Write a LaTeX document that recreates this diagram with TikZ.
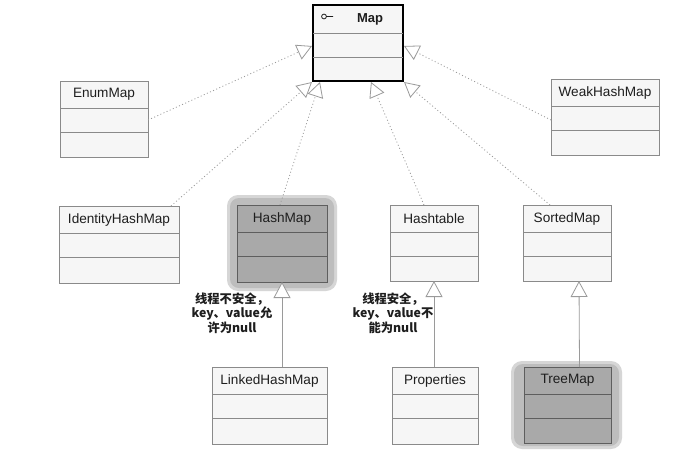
\documentclass[tikz,border=0pt]{standalone}
\usepackage{fontspec}
\setmainfont{Liberation Sans}
\newfontfamily\cjk{Noto Sans CJK SC}
\usetikzlibrary{arrows.meta,calc}
\definecolor{boxline}{HTML}{8A8A8A}
\definecolor{boxfill}{HTML}{F6F6F6}
\definecolor{hotfill}{HTML}{A9A9A9}
\definecolor{hotline}{HTML}{5E5E5E}
\definecolor{glow}{HTML}{BDBDBD}
\definecolor{glowsoft}{HTML}{D6D6D6}
\definecolor{edgec}{HTML}{9A9A9A}
\definecolor{txt}{HTML}{1E1E1E}
\tikzset{
  clsbox/.style={draw=boxline, fill=boxfill, line width=0.8pt, inner sep=0pt, outer sep=0pt},
  hotbox/.style={draw=hotline, fill=hotfill, line width=0.8pt, inner sep=0pt, outer sep=0pt},
  mapbox/.style={draw=black, fill=boxfill, line width=2.8pt, inner sep=0pt, outer sep=0pt},
  glowbox/.style={fill=glow, rounded corners=9pt, inner sep=0pt, outer sep=0pt},
  glowsoftbox/.style={fill=glowsoft, rounded corners=11pt, inner sep=0pt, outer sep=0pt},
  divline/.style={draw=boxline, line width=0.7pt},
  hotdiv/.style={draw=hotline, line width=0.7pt},
  clstitle/.style={font=\fontsize{13.6}{15}\selectfont, text=txt, inner sep=0pt},
  realize/.style={draw=edgec, dash pattern=on 1pt off 2.4pt, line width=0.8pt,
     -{Triangle[open, length=15pt, width=16pt, fill=white]}},
  inherit/.style={draw=edgec, line width=0.8pt,
     -{Triangle[open, length=16pt, width=17pt, fill=white]}},
  note/.style={font=\cjk\bfseries\fontsize{12.3}{14.6}\selectfont, text=txt, align=center, inner sep=0pt}
}
% name, box style, divider style, x1, y1, x2, y2, title
\newcommand\umlcls[8]{%
  \node[#2, anchor=north west, minimum width={#6-#4}, minimum height={#7-#5}] (#1) at (#4,#5) {};
  \draw[#3] ($(#1.north west)+(0,27)$) -- ($(#1.north east)+(0,27)$);
  \draw[#3] ($(#1.north west)+(0,51)$) -- ($(#1.north east)+(0,51)$);
  \node[clstitle] (#1-t) at ($(#1.north)+(0,13.5)$) {#8};
}
\begin{document}
\begin{tikzpicture}[x=1pt, y=-1pt]
\useasboundingbox[fill=white] (0,0) rectangle (685,461);

% glows behind highlighted classes
\node[glowsoftbox, anchor=north west, minimum width=110, minimum height=96] (hashglow2) at (227,195) {};
\node[glowbox, anchor=north west, minimum width=104, minimum height=90] (hashglow) at (230,198) {};
\node[glowsoftbox, anchor=north west, minimum width=111, minimum height=88] (treeglow2) at (511,361) {};
\node[glowbox, anchor=north west, minimum width=105, minimum height=82] (treeglow) at (514,364) {};

% Map interface
\node[mapbox, anchor=north west, minimum width=90, minimum height=76] (map) at (313,5) {};
\draw[line width=0.7pt, draw=boxline] ($(map.north west)+(0,28)$) -- ($(map.north east)+(0,28)$);
\draw[line width=0.7pt, draw=boxline] ($(map.north west)+(0,52)$) -- ($(map.north east)+(0,52)$);
\node[clstitle, font=\bfseries\fontsize{13}{15}\selectfont] (map-t) at ($(map.north)+(12,14)$) {Map};
\draw[line width=0.8pt, draw=txt] ($(map.north west)+(11,11.5)$) circle[radius=2.4]
      ($(map.north west)+(13.4,11.5)$) -- ($(map.north west)+(20,11.5)$);

\umlcls{enum}{clsbox}{divline}{60}{81}{148}{157}{EnumMap}
\umlcls{weak}{clsbox}{divline}{551}{79}{659}{155}{WeakHashMap}
\umlcls{ident}{clsbox}{divline}{59}{206}{179}{283}{IdentityHashMap}
\umlcls{hash}{hotbox}{hotdiv}{237}{205}{327}{282}{HashMap}
\umlcls{htable}{clsbox}{divline}{390}{205}{478}{281}{Hashtable}
\umlcls{sorted}{clsbox}{divline}{523}{205}{611}{281}{SortedMap}
\umlcls{linked}{clsbox}{divline}{212}{367}{327}{444}{LinkedHashMap}
\umlcls{props}{clsbox}{divline}{392}{367}{478}{444}{Properties}
\umlcls{tree}{hotbox}{hotdiv}{524}{367}{611}{443}{TreeMap}

% arrow tips on Map
\coordinate (mL) at ($(map.north west)+(-1,41)$);
\coordinate (mR) at ($(map.north east)+(1,41)$);
\coordinate (mB1) at ($(map.south west)+(-1,1)$);
\coordinate (mB2) at ($(map.south west)+(7,1)$);
\coordinate (mB3) at ($(map.south west)+(58,1)$);
\coordinate (mB4) at ($(map.south east)+(1,1)$);
% free ends on the implementing classes
\coordinate (sEnum) at ($(enum.east)+(0,1)$);
\coordinate (sWeak) at ($(weak.west)+(0,3)$);
\coordinate (sIdent) at ($(ident.north east)+(-8,0)$);
\coordinate (sHash) at ($(hash.north)+(-2,0)$);
\coordinate (sHtable) at ($(htable.north)+(-10,0)$);
\coordinate (sSorted) at ($(sorted.north)+(-17,0)$);

\draw[realize] (sEnum) -- (mL);
\draw[realize] (sWeak) -- (mR);
\draw[realize] (sIdent) -- (mB1);
\draw[realize] (sHash) -- (mB2);
\draw[realize] (sHtable) -- (mB3);
\draw[realize] (sSorted) -- (mB4);

% inheritance
\draw[inherit] (hash.south |- linked.north) -- (hash.south);
\draw[inherit] (htable.south |- props.north) -- (htable.south);
\coordinate (tTop) at ($(tree.north)+(12,0)$);
\coordinate (sBot) at ($(sorted.south)+(12,0)$);
\draw[inherit] (tTop) -- (sBot);

% notes
\node[note] (n1) at (232,313) {线程不安全，\\key、value允\\许为null};
\node[note] (n2) at (393,313) {线程安全，\\key、value不\\能为null};
\end{tikzpicture}
\end{document}
